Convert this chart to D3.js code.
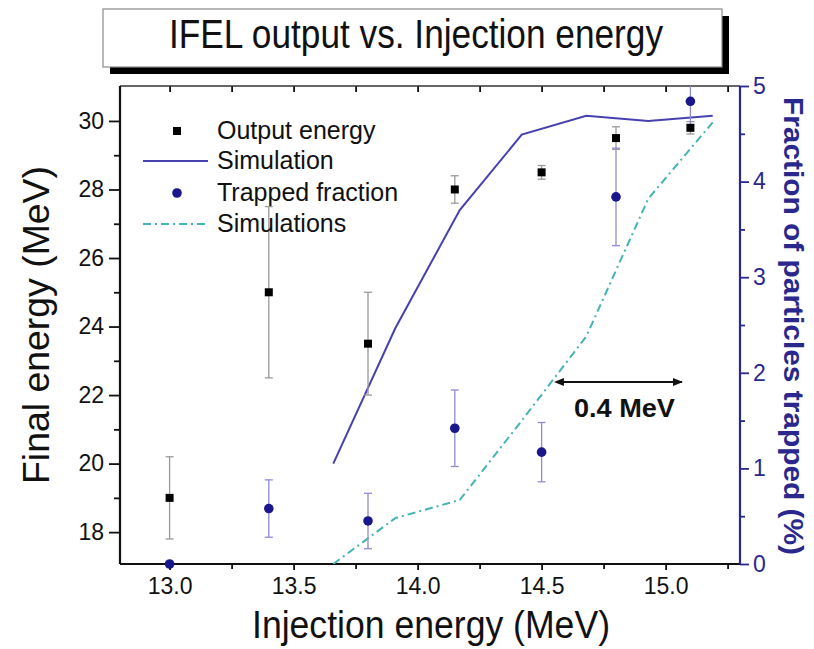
<!DOCTYPE html>
<html>
<head>
<meta charset="utf-8">
<script src="https://cdn.jsdelivr.net/npm/d3@7"></script>
<style>
  body { margin: 0; background: #fff; }
  svg text { font-family: "Liberation Sans", Arial, Helvetica, sans-serif; }
</style>
</head>
<body>
<svg id="chart" width="814" height="649"></svg>
<script>
// Measured points: injection energy (MeV)
const injection   = [13.0, 13.4, 13.8, 14.15, 14.5, 14.8, 15.1];
// Final (output) energy, MeV, with error half-widths
const outputEnergy = [19.0, 25.0, 23.5, 28.0, 28.5, 29.5, 29.8];
const outputErr    = [1.2, 2.5, 1.5, 0.4, 0.2, 0.33, 0.18];
// Fraction of particles trapped (%), with error half-widths
const trapped    = [0.0, 0.58, 0.45, 1.42, 1.17, 3.84, 4.84];
const trappedErr = [0, 0.3, 0.29, 0.4, 0.31, 0.51, 0.25];
// Simulation curves
const simX       = [13.66, 13.91, 14.17, 14.42, 14.68, 14.93, 15.19];
const simEnergy  = [20.0, 23.95, 27.4, 29.6, 30.15, 30.0, 30.15];
const simTrapped = [0.0, 0.48, 0.67, 1.5, 2.38, 3.82, 4.62];
// Axis ticks
const xTicks      = [13.0, 13.5, 14.0, 14.5, 15.0];
const xMinorTicks = [13.25, 13.75, 14.25, 14.75, 15.25];
const yLeftTicks  = [18, 20, 22, 24, 26, 28, 30];
const yLeftMinor  = [19, 21, 23, 25, 27, 29];
const yRightTicks = [0, 1, 2, 3, 4, 5];
const yRightMinor = [0.5, 1.5, 2.5, 3.5, 4.5];
// Legend entries
const legendLabels = ["Output energy", "Simulation", "Trapped fraction", "Simulations"];
// Annotation span (MeV)
const spanArrow = [14.586, 15.066];

const NAVY = "#2a288c", DOT = "#1a168c", SIM = "#4741b0",
      TEAL = "#44b3b3", GREY = "#9a9a9a", LILAC = "#8f8ad6";

const svg = d3.select("#chart");
const L = 120, R = 740, T = 86, B = 564;

const x  = d3.scaleLinear().domain([12.8, 15.3]).range([L, R]);
const yL = d3.scaleLinear().domain([17.07, 31.02]).range([B, T]);
const yR = d3.scaleLinear().domain([0, 5]).range([B, T]);

// Title box with drop shadow
const tb = svg.append("g");
tb.append("rect").attr("x", 110).attr("y", 16).attr("width", 619).attr("height", 58).attr("fill", "#000");
tb.append("rect").attr("x", 103).attr("y", 9).attr("width", 619).attr("height", 58)
  .attr("fill", "#fff").attr("stroke", "#8a8a8a").attr("stroke-width", 1.2);
tb.append("text").attr("x", 416).attr("y", 48).attr("text-anchor", "middle")
  .attr("font-size", 40).attr("textLength", 494).attr("lengthAdjust", "spacingAndGlyphs")
  .attr("fill", "#111").text("IFEL output vs. Injection energy");

// Axes
function styleAxis(g, color, fs) {
  g.select(".domain").remove();
  g.selectAll("line").attr("stroke", color).attr("stroke-width", 1.8);
  g.selectAll("text").attr("fill", color).attr("font-size", fs);
}
// bottom
svg.append("g").attr("transform", `translate(0,${B})`)
  .call(d3.axisBottom(x).tickValues(xTicks).tickSize(6).tickPadding(8).tickFormat(d3.format(".1f")))
  .call(g => styleAxis(g, "#111", 23));
svg.append("g").attr("transform", `translate(0,${B})`)
  .call(d3.axisBottom(x).tickValues(xMinorTicks).tickSize(5).tickFormat(""))
  .call(g => styleAxis(g, "#111", 0));
// top (inward ticks)
svg.append("g").attr("transform", `translate(0,${T})`)
  .call(d3.axisBottom(x).tickValues(xTicks.concat(xMinorTicks)).tickSize(6).tickFormat(""))
  .call(g => styleAxis(g, "#111", 0));
// left
svg.append("g").attr("transform", `translate(${L},0)`)
  .call(d3.axisLeft(yL).tickValues(yLeftTicks).tickSize(11).tickPadding(5).tickFormat(d3.format("d")))
  .call(g => styleAxis(g, "#111", 23));
svg.append("g").attr("transform", `translate(${L},0)`)
  .call(d3.axisLeft(yL).tickValues(yLeftMinor).tickSize(6).tickFormat(""))
  .call(g => styleAxis(g, "#111", 0));
// right
svg.append("g").attr("transform", `translate(${R},0)`)
  .call(d3.axisRight(yR).tickValues(yRightTicks).tickSize(9).tickPadding(4).tickFormat(d3.format("d")))
  .call(g => styleAxis(g, NAVY, 23));
svg.append("g").attr("transform", `translate(${R},0)`)
  .call(d3.axisRight(yR).tickValues(yRightMinor).tickSize(5).tickFormat(""))
  .call(g => styleAxis(g, NAVY, 0));

// Frame
svg.append("line").attr("x1", L).attr("x2", R).attr("y1", T).attr("y2", T).attr("stroke", "#333").attr("stroke-width", 1.6);
svg.append("line").attr("x1", L).attr("x2", R).attr("y1", B).attr("y2", B).attr("stroke", "#111").attr("stroke-width", 2.2);
svg.append("line").attr("x1", L).attr("x2", L).attr("y1", T).attr("y2", B).attr("stroke", "#111").attr("stroke-width", 2.2);
svg.append("line").attr("x1", R).attr("x2", R).attr("y1", T).attr("y2", B).attr("stroke", NAVY).attr("stroke-width", 2.2);

// Axis titles
svg.append("text").attr("transform", `translate(431,638)`).attr("text-anchor", "middle")
  .attr("font-size", 38).attr("textLength", 358).attr("lengthAdjust", "spacingAndGlyphs")
  .attr("fill", "#111").text("Injection energy (MeV)");
svg.append("text").attr("transform", `translate(49,325) rotate(-90)`).attr("text-anchor", "middle")
  .attr("font-size", 36).attr("textLength", 318).attr("lengthAdjust", "spacingAndGlyphs")
  .attr("fill", "#111").text("Final energy (MeV)");
svg.append("text").attr("transform", `translate(784,326) rotate(90)`).attr("text-anchor", "middle")
  .attr("font-size", 27).attr("font-weight", "bold").attr("textLength", 458).attr("lengthAdjust", "spacingAndGlyphs")
  .attr("fill", NAVY).text("Fraction of particles trapped (%)");

// Plot area clip
svg.append("clipPath").attr("id", "plotclip").append("rect")
  .attr("x", L).attr("y", T).attr("width", R - L).attr("height", B - T);
const plot = svg.append("g").attr("clip-path", "url(#plotclip)");

// Simulation curves
plot.append("path")
  .datum(simX.map((v, i) => [v, simEnergy[i]]))
  .attr("fill", "none").attr("stroke", SIM).attr("stroke-width", 2)
  .attr("d", d3.line().x(d => x(d[0])).y(d => yL(d[1])));
plot.append("path")
  .datum(simX.map((v, i) => [v, simTrapped[i]]))
  .attr("fill", "none").attr("stroke", TEAL).attr("stroke-width", 2)
  .attr("stroke-dasharray", "8,4,2,4")
  .attr("d", d3.line().x(d => x(d[0])).y(d => yR(d[1])));

// Error bars
function errorBars(vals, errs, scale, color) {
  const g = plot.append("g").attr("stroke", color).attr("stroke-width", 1.3);
  injection.forEach((xv, i) => {
    if (!errs[i]) return;
    const cx = x(xv), y1 = scale(vals[i] - errs[i]), y2 = scale(vals[i] + errs[i]);
    g.append("line").attr("x1", cx).attr("x2", cx).attr("y1", y1).attr("y2", y2);
    g.append("line").attr("x1", cx - 4).attr("x2", cx + 4).attr("y1", y1).attr("y2", y1);
    g.append("line").attr("x1", cx - 4).attr("x2", cx + 4).attr("y1", y2).attr("y2", y2);
  });
}
errorBars(outputEnergy, outputErr, yL, GREY);
errorBars(trapped, trappedErr, yR, LILAC);

// Markers
svg.append("g").selectAll("rect").data(injection).join("rect")
  .attr("x", (d) => x(d) - 4).attr("y", (d, i) => yL(outputEnergy[i]) - 4)
  .attr("width", 8).attr("height", 8).attr("fill", "#000");
svg.append("g").selectAll("circle").data(injection).join("circle")
  .attr("cx", d => x(d)).attr("cy", (d, i) => yR(trapped[i]))
  .attr("r", 4.8).attr("fill", DOT);

// Legend
const lg = svg.append("g");
const rows = [131, 161, 193, 224];
lg.append("rect").attr("x", 173).attr("y", rows[0] - 4).attr("width", 8).attr("height", 8).attr("fill", "#000");
lg.append("line").attr("x1", 143).attr("x2", 208).attr("y1", rows[1]).attr("y2", rows[1]).attr("stroke", SIM).attr("stroke-width", 2);
lg.append("circle").attr("cx", 177).attr("cy", rows[2]).attr("r", 4.8).attr("fill", DOT);
lg.append("line").attr("x1", 143).attr("x2", 208).attr("y1", rows[3]).attr("y2", rows[3]).attr("stroke", TEAL).attr("stroke-width", 2).attr("stroke-dasharray", "8,4,2,4");
legendLabels.forEach((t, i) => {
  lg.append("text").attr("x", 217).attr("y", rows[i] + 8).attr("font-size", 25)
    .attr("fill", "#111").text(t);
});

// Span annotation
const defs = svg.append("defs");
["start", "end"].forEach(k => {
  defs.append("marker").attr("id", "arr-" + k).attr("viewBox", "0 0 10 10")
    .attr("refX", k === "end" ? 9 : 1).attr("refY", 5).attr("markerWidth", 5).attr("markerHeight", 5)
    .attr("orient", "auto-start-reverse").attr("markerUnits", "strokeWidth")
    .append("path").attr("d", "M0,1 L10,5 L0,9 z").attr("fill", "#111");
});
svg.append("line").attr("x1", x(spanArrow[0])).attr("x2", x(spanArrow[1])).attr("y1", 382).attr("y2", 382)
  .attr("stroke", "#111").attr("stroke-width", 2)
  .attr("marker-start", "url(#arr-start)").attr("marker-end", "url(#arr-end)");
svg.append("text").attr("x", (x(spanArrow[0]) + x(spanArrow[1])) / 2 + 2).attr("y", 417).attr("text-anchor", "middle")
  .attr("font-size", 25).attr("font-weight", "bold").attr("textLength", 101).attr("lengthAdjust", "spacingAndGlyphs")
  .attr("fill", "#111").text("0.4 MeV");
</script>
</body>
</html>
